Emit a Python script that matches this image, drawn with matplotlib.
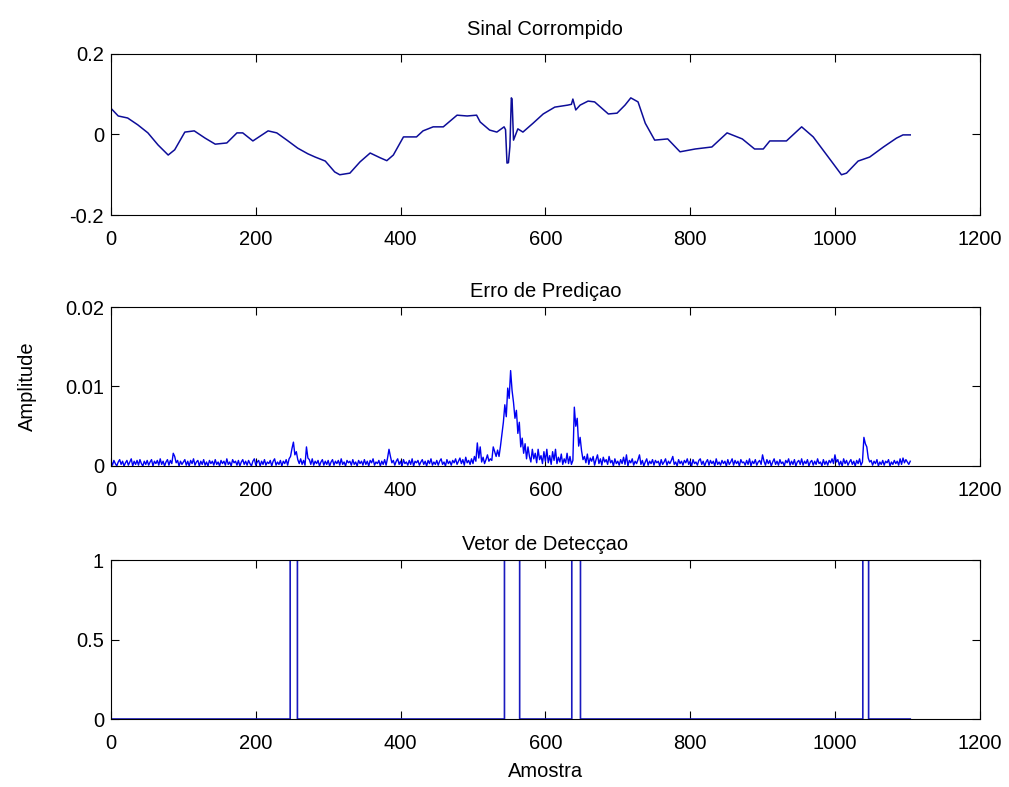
import numpy as np
import matplotlib
matplotlib.use("Agg")
import matplotlib.pyplot as plt

plt.rcParams['font.family'] = ['Liberation Sans', 'DejaVu Sans']

# ---------------- data ----------------
N_SAMPLES = 1105

# Sinal Corrompido: (sample, value) points
sig_x = [0, 10, 23, 37, 51, 65, 79, 88, 102, 115, 130, 144, 160, 174, 182, 196,
         217, 229, 243, 258, 272, 282, 296, 309, 316, 330, 344, 358, 372, 381,
         390, 404, 422, 431, 445, 459, 478, 492, 505, 510, 523, 533, 543, 545,
         547, 549, 551, 553, 554, 556, 562, 569, 583, 597, 613, 631, 636, 638,
         642, 648, 659, 668, 687, 699, 710, 718, 728, 738, 751, 769, 786, 807,
         830, 851, 872, 889, 901, 910, 933, 954, 970, 997, 1009, 1016, 1032,
         1048, 1067, 1085, 1094, 1104]
sig_y = [0.065, 0.046, 0.041, 0.024, 0.004, -0.026, -0.051, -0.038, 0.006,
         0.009, -0.009, -0.024, -0.021, 0.004, 0.004, -0.016, 0.009, 0.004,
         -0.014, -0.034, -0.048, -0.056, -0.066, -0.093, -0.100, -0.096,
         -0.068, -0.046, -0.058, -0.065, -0.051, -0.006, -0.006, 0.009, 0.019,
         0.019, 0.048, 0.046, 0.048, 0.031, 0.011, 0.006, 0.019, 0.012,
         -0.071, -0.070, -0.030, 0.091, 0.088, -0.014, 0.014, 0.006, 0.028,
         0.051, 0.068, 0.073, 0.075, 0.088, 0.061, 0.073, 0.083, 0.081, 0.051,
         0.053, 0.073, 0.091, 0.081, 0.028, -0.014, -0.011, -0.043, -0.036,
         -0.031, 0.004, -0.011, -0.036, -0.036, -0.016, -0.016, 0.019, -0.006,
         -0.071, -0.100, -0.096, -0.066, -0.056, -0.031, -0.009, -0.001, -0.001]

# Erro de Predicao: one value every 2 samples, in units of 1e-4
err_step = 2
err_e4 = [
    6, 1, 7, 3, 0, 5, 8, 2, 6, 0, 4, 7, 1, 5, 9, 0, 6, 2, 7, 1, 8, 3, 0, 6, 2,
    7, 1, 5, 8, 0, 6, 3, 7, 1, 9, 2, 6, 0, 5, 8, 1, 7, 3, 16, 12, 4, 7, 0, 6, 2,
    5, 8, 1, 6, 0, 7, 3, 9, 1, 5, 7, 0, 6, 2, 8, 1, 5, 0, 7, 3, 6, 1, 8, 2, 5,
    0, 7, 3, 6, 1, 9, 2, 5, 0, 8, 4, 6, 1, 7, 0, 5, 8, 2, 6, 1, 7, 3, 0, 6, 9,
    1, 5, 7, 0, 6, 2, 8, 1, 5, 3, 7, 0, 6, 9, 1, 5, 2, 7, 0, 6, 3, 8, 1, 9, 12,
    22, 30, 14, 18, 8, 3, 9, 2, 7, 1, 24, 10, 8, 2, 9, 1, 6, 3, 7, 0, 5, 8, 1, 6, 2,
    7, 0, 5, 8, 1, 6, 3, 7, 1, 9, 2, 5, 0, 7, 4, 6, 1, 8, 2, 5, 0, 7, 3, 6, 1,
    8, 2, 6, 0, 7, 4, 9, 1, 5, 3, 7, 0, 6, 2, 8, 1, 10, 21, 12, 4, 7, 1, 6, 9, 2,
    6, 0, 8, 3, 5, 1, 7, 2, 9, 0, 6, 4, 7, 1, 5, 8, 2, 6, 0, 7, 3, 9, 1, 5, 2,
    7, 1, 6, 9, 2, 5, 0, 8, 3, 6, 1, 7, 4, 9, 2, 6, 10, 3, 8, 1, 11, 4, 7, 2, 9,
    3, 12, 6, 29, 10, 24, 5, 11, 3, 8, 14, 6, 9, 7, 24, 18, 12, 20, 12, 25, 40, 55, 77, 62, 98,
    85, 120, 95, 80, 60, 70, 41, 55, 24, 35, 16, 28, 9, 24, 12, 5, 21, 9, 16, 4, 21, 8, 13, 3, 18,
    6, 21, 4, 13, 2, 18, 7, 21, 3, 11, 5, 15, 2, 9, 4, 16, 3, 12, 2, 7, 74, 50, 60, 25, 36,
    19, 8, 12, 4, 15, 2, 10, 6, 12, 1, 8, 14, 3, 9, 1, 11, 5, 8, 2, 12, 4, 7, 0, 9, 3,
    6, 1, 8, 3, 11, 2, 14, 0, 7, 4, 9, 1, 6, 3, 8, 14, 2, 7, 0, 5, 9, 1, 6, 3, 8,
    1, 7, 4, 6, 0, 8, 2, 5, 9, 1, 6, 3, 7, 12, 2, 5, 0, 8, 3, 6, 1, 7, 4, 9, 2,
    6, 0, 8, 3, 5, 1, 7, 9, 2, 6, 0, 5, 8, 1, 7, 3, 6, 0, 9, 2, 5, 1, 7, 3, 6,
    0, 8, 2, 5, 9, 1, 7, 3, 6, 0, 8, 4, 5, 1, 7, 2, 9, 0, 6, 3, 8, 1, 5, 7, 2,
    14, 6, 1, 8, 3, 7, 0, 5, 9, 2, 6, 1, 8, 3, 5, 0, 7, 4, 9, 1, 6, 2, 8, 0, 5,
    7, 2, 9, 1, 6, 3, 8, 0, 5, 7, 1, 6, 2, 9, 3, 5, 0, 8, 2, 6, 1, 7, 4, 9, 3,
    14, 5, 8, 1, 6, 0, 9, 3, 7, 1, 5, 8, 2, 6, 0, 7, 3, 9, 1, 5, 36, 28, 24, 10, 5,
    7, 1, 6, 3, 8, 0, 5, 2, 7, 1, 6, 4, 8, 0, 5, 2, 7, 3, 6, 1, 9, 2, 10, 4, 8,
    5, 2, 6,
]

# Vetor de Deteccao: intervals (start, end) where the vector equals 1
det_start = [248, 544, 637, 1039]
det_end = [257, 564, 648, 1046]

x_ticks = [0, 200, 400, 600, 800, 1000, 1200]

# ---------------- figure ----------------
fig = plt.figure(figsize=(10.09, 7.87), dpi=100)
lw_axes = 0.8
blue = (0.0, 0.0, 0.95)
FS = 14.5

def style(ax):
    ax.set_xlim(0, 1200)
    ax.set_xticks(x_ticks)
    ax.tick_params(direction='in', length=6, width=lw_axes, top=True, right=True,
                   labelsize=FS)
    ax.tick_params(axis='x', pad=11)
    ax.tick_params(axis='y', pad=5)
    for s in ax.spines.values():
        s.set_linewidth(lw_axes)

# subplot 1
ax1 = fig.add_axes([0.110, 0.7268, 0.861, 0.2046])
ax1.plot(sig_x, sig_y, color=(0.05, 0.05, 0.6), lw=1.1)
ax1.set_ylim(-0.2, 0.2)
ax1.set_yticks([-0.2, 0, 0.2])
ax1.set_yticklabels(['-0.2', '0', '0.2'])
ax1.set_title('Sinal Corrompido', fontsize=FS, pad=14)
style(ax1)

# subplot 2
ax2 = fig.add_axes([0.110, 0.4079, 0.861, 0.2020])
err = np.array(err_e4) * 1e-4
err_x = np.arange(len(err)) * err_step
ax2.plot(err_x, err, color=blue, lw=1.0)
ax2.set_ylim(0, 0.02)
ax2.set_yticks([0, 0.01, 0.02])
ax2.set_yticklabels(['0', '0.01', '0.02'])
ax2.set_title('Erro de Prediçao', fontsize=FS, pad=7)
ax2.set_ylabel('Amplitude', fontsize=FS, labelpad=20)
style(ax2)

# subplot 3
ax3 = fig.add_axes([0.110, 0.0864, 0.861, 0.2020])
det = np.zeros(N_SAMPLES)
for s, e in zip(det_start, det_end):
    det[s:e + 1] = 1
ax3.plot(np.arange(N_SAMPLES), det, color=(0.1, 0.1, 0.75), lw=1.2,
         drawstyle='steps-mid')
ax3.set_ylim(0, 1)
ax3.set_yticks([0, 0.5, 1])
ax3.set_yticklabels(['0', '0.5', '1'])
ax3.set_title('Vetor de Detecçao', fontsize=FS, pad=7)
ax3.set_xlabel('Amostra', fontsize=FS, labelpad=6)
style(ax3)

fig.savefig('out.png', dpi=100)
